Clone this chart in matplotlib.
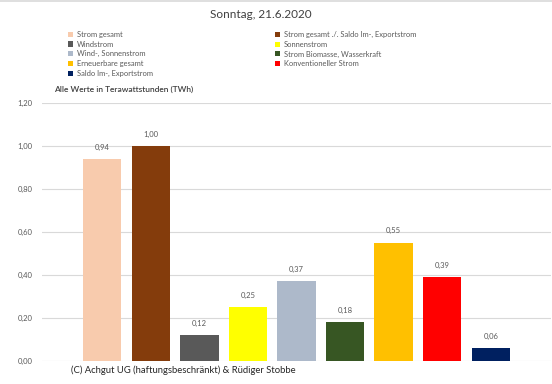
import matplotlib
matplotlib.use("Agg")
import matplotlib.pyplot as plt
from matplotlib.patches import Patch
from matplotlib.lines import Line2D

plt.rcParams['font.family'] = ['Lato', 'DejaVu Sans']

title = "Sonntag, 21.6.2020"
series = ["Strom gesamt", "Strom gesamt ./. Saldo Im-, Exportstrom", "Windstrom",
          "Sonnenstrom", "Wind-, Sonnenstrom", "Strom Biomasse, Wasserkraft",
          "Erneuerbare gesamt", "Konventioneller Strom", "Saldo Im-, Exportstrom"]
values = [0.94, 1.00, 0.12, 0.25, 0.37, 0.18, 0.55, 0.39, 0.06]
colors = ["#F8CBAD", "#843C0C", "#595959", "#FFFF00", "#ADB9CA",
          "#375623", "#FFC000", "#FF0000", "#002060"]
yticks = [0.0, 0.2, 0.4, 0.6, 0.8, 1.0, 1.2]
ytick_labels = ["0,00", "0,20", "0,40", "0,60", "0,80", "1,00", "1,20"]

W, H = 552, 384
fig = plt.figure(figsize=(W / 100, H / 100), dpi=100)

ax = fig.add_axes([42 / W, (H - 361) / H, (551 - 42) / W, (361 - 103) / H])
x = list(range(len(values)))
ax.bar(x, values, width=0.79, color=colors, zorder=3)
for xi, v in zip(x, values):
    ax.annotate(f"{v:.2f}".replace(".", ","), (xi, v), xytext=(0, 6),
                textcoords="offset points", ha="center", va="bottom",
                fontsize=5.5, color="#595959")
ax.set_xlim(-1.24, 9.24)
ax.set_ylim(0, 1.2)
ax.set_yticks(yticks)
ax.set_yticklabels(ytick_labels, fontsize=5.5, color="#595959")
ax.set_xticks([])
ax.tick_params(axis="y", length=0, pad=7)
ax.grid(axis="y", color="#D9D9D9", linewidth=0.8, zorder=0)
for s in ax.spines.values():
    s.set_visible(False)

fig.text(261 / W, 1 - 15 / H, title, ha="center", va="center",
         fontsize=8.5, color="#404040")
fig.text(54 / W, 1 - 89 / H, "Alle Werte in Terawattstunden (TWh)", ha="left",
         va="center", fontsize=6.0, color="#404040", fontweight="semibold")
fig.text(71 / W, 1 - 370 / H, "(C) Achgut UG (haftungsbeschränkt) & Rüdiger Stobbe",
         ha="left", va="center", fontsize=6.8, color="#262626")

# legend, row-major order in two columns
handles = [Patch(facecolor=c, edgecolor="none") for c in colors]
order = [0, 2, 4, 6, 8, 1, 3, 5, 7]
leg = fig.legend([handles[i] for i in order], [series[i] for i in order],
                 ncol=2, loc="upper left", bbox_to_anchor=(68 / W, 1 - 31 / H),
                 frameon=False, fontsize=5.4, handlelength=0.7, handleheight=0.7,
                 handletextpad=0.5, labelspacing=0.36, columnspacing=16.2,
                 borderaxespad=0, borderpad=0, labelcolor="#595959")

fig.add_artist(Line2D([0, 1], [1 - 0.5 / H, 1 - 0.5 / H], transform=fig.transFigure,
                      color="#D9D9D9", linewidth=1.2))

fig.savefig("out.png", dpi=100)
